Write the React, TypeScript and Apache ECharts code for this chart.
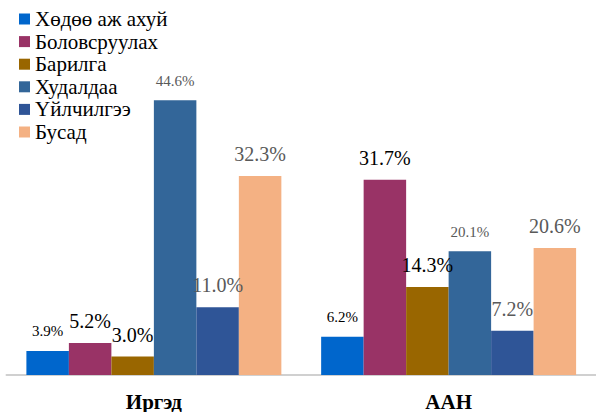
import React, { useEffect, useRef } from "react";
import * as echarts from "echarts";

const categories = ["Иргэд", "ААН"];
const seriesNames = ["Хөдөө аж ахуй", "Боловсруулах", "Барилга", "Худалдаа", "Үйлчилгээ", "Бусад"];
const agriculture = [3.9, 6.2];
const manufacturing = [5.2, 31.7];
const construction = [3.0, 14.3];
const trade = [44.6, 20.1];
const services = [11.0, 7.2];
const other = [32.3, 20.6];
const seriesValues = [agriculture, manufacturing, construction, trade, services, other];

const colors = ["#0066CC", "#993366", "#996600", "#336699", "#2F5597", "#F4B183"];
const labelSizes = [15, 20, 20, 15, 20, 20];
const labelColors = ["#000000", "#000000", "#000000", "#595959", "#595959", "#595959"];
const FONT = "Liberation Serif";

export default function App() {
  const ref = useRef<HTMLDivElement>(null);
  useEffect(() => {
    if (!ref.current) return;
    const chart = echarts.init(ref.current, null, { renderer: "svg" });
    chart.setOption({
      animation: false,
      color: colors,
      textStyle: { fontFamily: FONT },
      legend: {
        orient: "vertical",
        left: 14,
        top: 3.5,
        icon: "rect",
        itemWidth: 11,
        itemHeight: 11,
        itemGap: 1.6,
        textStyle: { fontFamily: FONT, fontSize: 21, color: "#000" },
        data: seriesNames,
      },
      grid: { left: 6.5, width: 595, top: 67, bottom: 36 },
      xAxis: {
        type: "category",
        data: categories,
        axisLine: { lineStyle: { color: "#d0d0d0", width: 2 } },
        axisTick: { show: false },
        axisLabel: {
          fontFamily: FONT,
          fontSize: 21,
          fontWeight: "bold",
          color: "#000",
          margin: 16,
        },
      },
      yAxis: { type: "value", min: 0, max: 50, show: false, splitLine: { show: false } },
      series: seriesValues.map((vals, i) => ({
        name: seriesNames[i],
        type: "bar",
        data: vals,
        barGap: "0%",
        barCategoryGap: "13.5%",
        label: {
          show: true,
          position: "top",
          distance: 12,
          formatter: (p: any) => Number(p.value).toFixed(1) + "%",
          fontFamily: FONT,
          fontSize: labelSizes[i],
          color: labelColors[i],
        },
      })),
    });
    return () => chart.dispose();
  }, []);
  return (
    <div
      ref={ref}
      style={{ position: "fixed", left: 0, top: 0, width: 596, height: 412, background: "#fff" }}
    />
  );
}
